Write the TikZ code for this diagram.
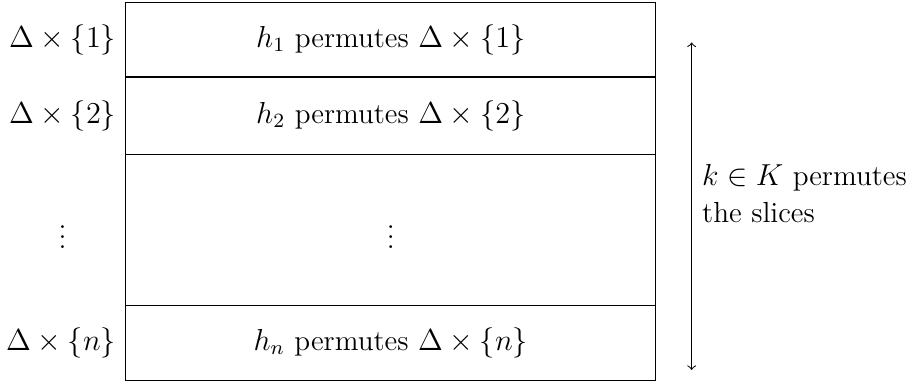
\documentclass[tikz,border=0pt]{standalone}
\usepackage{amsmath}
\usepackage{amssymb}
\usetikzlibrary{positioning}

\tikzset{
  every node/.style={font=\fontsize{11.5}{14.5}\selectfont},
  slice/.style={draw, minimum width=7.36cm, minimum height=1.04cm, inner sep=0pt, outer sep=0pt},
  sliceLabel/.style={inner sep=0pt}
}

\begin{document}
\begin{tikzpicture}
  \useasboundingbox (0,0) rectangle (12.63,5.31);

  % Slices of the box
  \node[slice] (r1) at (5.43,4.76) {$h_1$ permutes $\Delta\times\{1\}$};
  \node[slice, below=0pt of r1, minimum height=1.07cm] (r2) {$h_2$ permutes $\Delta\times\{2\}$};
  \node[slice, below=0pt of r2, minimum height=2.10cm] (r3) {$\vdots$};
  \node[slice, below=0pt of r3] (r4) {$h_n$ permutes $\Delta\times\{n\}$};

  % Labels on the left
  \node[sliceLabel, left=0.13cm of r1] (l1) {$\Delta\times\{1\}$};
  \node[sliceLabel, left=0.13cm of r2] (l2) {$\Delta\times\{2\}$};
  \node[sliceLabel] (l3) at (l1.center |- r3.center) {$\vdots$};
  \node[sliceLabel, left=0.13cm of r4] (l4) {$\Delta\times\{n\}$};

  % Action of K
  \coordinate (top) at (9.61,4.72);
  \coordinate (bot) at (9.61,0.17);
  \draw[<->] (top) -- (bot);
  \node[align=left, anchor=west, inner sep=0pt] (kText) at (9.75,2.62) {$k\in K$ permutes\\the slices};
\end{tikzpicture}
\end{document}
